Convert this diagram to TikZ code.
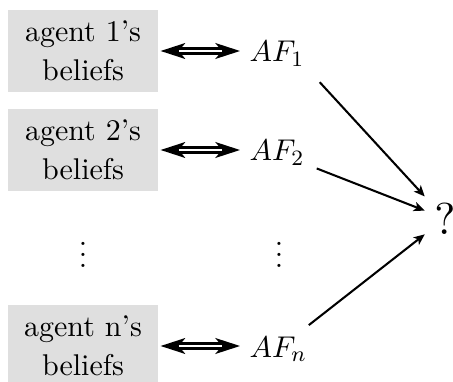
\documentclass[tikz,border=0pt]{standalone}
\usetikzlibrary{arrows.meta}
\font\qmfont=cmr10 at 16.3pt
\begin{document}
\begin{tikzpicture}[x=0.365pt,y=-0.365pt,
  every node/.style={font=\fontsize{10.95}{14.2}\selectfont},
  belief/.style={fill=gray!25, minimum width=54.75pt, minimum height=29.9pt, align=center, inner sep=0pt},
  afnode/.style={anchor=west},
  dhead/.style={line width=0.8pt, {Stealth[length=9pt,width=5.8pt,inset=2.4pt]}-{Stealth[length=9pt,width=5.8pt,inset=2.4pt]}, shorten <=0.75pt},
  dline/.style={line width=0.8pt, double distance=1pt, shorten <=7.4pt, shorten >=6.6pt},
  conn/.style={line width=0.75pt, -{Stealth[length=4pt,width=3.4pt,inset=1pt]}}]
\useasboundingbox (0,0) rectangle (453,382);

\node[belief] (b1) at (83,51) {agent 1's\\beliefs};
\node[belief] (b2) at (83,150) {agent 2's\\beliefs};
\node[belief] (bn) at (83,346) {agent n's\\beliefs};

\node[afnode] (af1) at (240,54) {$AF_1$};
\node[afnode] (af2) at (240,153) {$AF_2$};
\node[afnode] (afn) at (240,349) {$AF_n$};

\node[anchor=base] (d1) at (83,267.5) {$\vdots$};
\node[anchor=base] (d2) at (279,267.5) {$\vdots$};

\node[font=\qmfont] (q) at (445,218.5) {?};

\foreach \b/\a in {b1/af1, b2/af2, bn/afn}{
  \draw[dhead] (\b.east) -- (\b.east -| \a.west);
  \draw[dline] (\b.east) -- (\b.east -| \a.west);
}

\draw[conn, shorten <=3pt] (af1.south east) -- (q);
\draw[conn, shorten <=1pt] (af2) -- (q);
\draw[conn, shorten <=1pt] (afn) -- (q);
\end{tikzpicture}
\end{document}
